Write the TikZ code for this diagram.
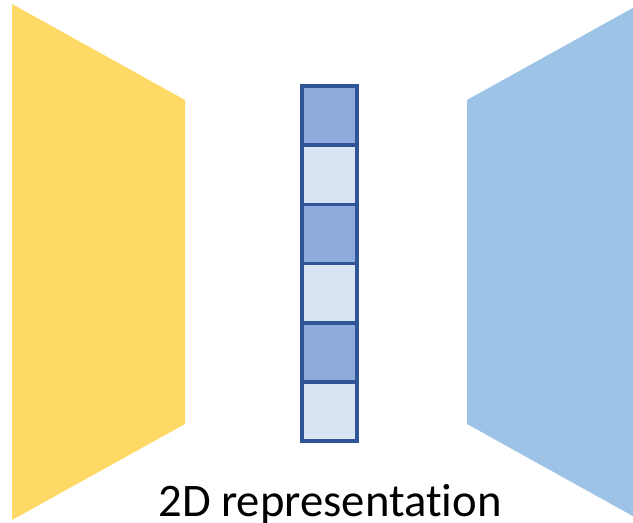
\documentclass[tikz,border=0pt]{standalone}
\usepackage{fontspec}
\setmainfont{Carlito}[Ligatures=NoCommon]
\definecolor{encyellow}{HTML}{FFD966}
\definecolor{decblue}{HTML}{9DC3E6}
\definecolor{celldark}{HTML}{8FAADC}
\definecolor{celllight}{HTML}{DAE3F3}
\definecolor{cellborder}{HTML}{2F5597}
\begin{document}
\begin{tikzpicture}[x=0.75pt,y=-0.75pt,
  cell/.style={draw=cellborder, line width=2.7pt, minimum width=41pt, minimum height=44.4pt,
    inner sep=0pt, outer sep=0pt, anchor=north},
  darkcell/.style={cell, fill=celldark},
  lightcell/.style={cell, fill=celllight}]
\useasboundingbox (0,0) rectangle (633,523);
\begin{scope}
  \clip (0,0) rectangle (633,523);
  % encoder and decoder trapezoids
  \fill[encyellow] (12,4) -- (185,100) -- (185,424) -- (12,520) -- cycle;
  \fill[decblue] (467,100) -- (640,4) -- (640,520) -- (467,424) -- cycle;
\end{scope}
% latent code stack
\node[darkcell]  (c1) at (329.5,86) {};
\node[lightcell] (c2) at (c1.south) {};
\node[darkcell]  (c3) at (c2.south) {};
\node[lightcell] (c4) at (c3.south) {};
\node[darkcell]  (c5) at (c4.south) {};
\node[lightcell] (c6) at (c5.south) {};
\node[anchor=base, font=\fontsize{35}{40}\selectfont, inner sep=0pt] (lbl) at (330,517) {2D representation};
\end{tikzpicture}
\end{document}
